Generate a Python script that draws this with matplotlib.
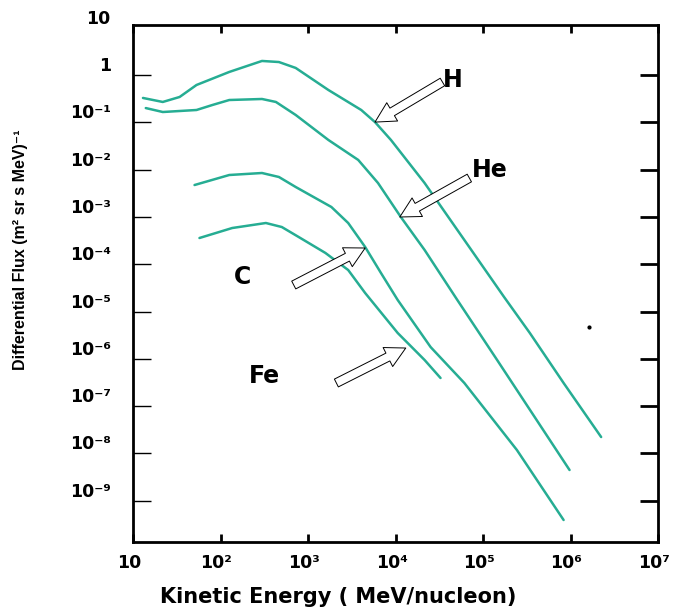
import numpy as np
import matplotlib
matplotlib.use("Agg")
import matplotlib.pyplot as plt
from matplotlib.transforms import ScaledTranslation

plt.rcParams['font.family'] = ['DejaVu Sans']
plt.rcParams['font.weight'] = 'bold'

# spectra: energy in MeV/nucleon, flux in (m2 sr s MeV)^-1
h_energy = [13.0, 21.9, 34.1, 53.2, 126, 298, 465, 723, 1710, 4060, 5830,
            8870, 21500, 61200, 174000, 343000, 834000, 2240000]
h_flux = [0.327, 0.269, 0.343, 0.615, 1.16, 1.98, 1.88, 1.41, 0.482, 0.182, 0.101,
          0.0423, 5.21e-3, 3.25e-4, 2.03e-5, 3.51e-6, 3.08e-7, 2.22e-8]

he_energy = [14.0, 21.9, 53.2, 80.7, 126, 298, 430, 723, 1710, 3750, 6310,
             11500, 21500, 50900, 145000, 975000]
he_flux = [0.200, 0.165, 0.182, 0.232, 0.296, 0.311, 0.269, 0.143, 0.0423, 0.0160,
           5.21e-3, 9.95e-4, 2.0e-4, 1.75e-5, 9.44e-7, 4.46e-9]

c_energy = [50.5, 126, 298, 465, 723, 1850, 2880, 4500, 6820, 10600, 25200,
            61200, 244000, 834000]
c_flux = [4.72e-3, 7.69e-3, 8.47e-3, 6.98e-3, 4.29e-3, 1.62e-3, 7.43e-4, 2.31e-4,
          6.52e-5, 1.75e-5, 1.77e-6, 3.08e-7, 1.18e-8, 3.91e-10]

fe_energy = [57.5, 136, 330, 502, 782, 1580, 2880, 4500, 10600, 21500, 32700]
fe_flux = [3.58e-4, 5.82e-4, 7.43e-4, 6.11e-4, 3.76e-4, 1.73e-4, 7.53e-5, 2.46e-5,
           3.51e-6, 9.44e-7, 3.93e-7]

# element labels and their arrows (tip on the curve, tail near the label)
names = ['H', 'He', 'C', 'Fe']
name_x = [44800, 121000, 177, 314]
name_y = [0.78, 9.8e-3, 5.4e-5, 4.33e-7]
tip_x = [5830, 11200, 4500, 13100]
tip_y = [0.101, 9.95e-4, 2.2e-4, 1.69e-6]
tail_x = [34400, 69800, 687, 2110]
tail_y = [0.711, 6.64e-3, 3.63e-5, 3.08e-7]

stray_x = [1.64e6]
stray_y = [4.7e-6]

xticks = [1e1, 1e2, 1e3, 1e4, 1e5, 1e6, 1e7]
xticklabels = ['10', '10²', '10³', '10⁴', '10⁵', '10⁶', '10⁷']
yticks = [1e1, 1e0, 1e-1, 1e-2, 1e-3, 1e-4, 1e-5, 1e-6, 1e-7, 1e-8, 1e-9]
yticklabels = ['10', '1', '10⁻¹', '10⁻²', '10⁻³', '10⁻⁴', '10⁻⁵', '10⁻⁶',
               '10⁻⁷', '10⁻⁸', '10⁻⁹']

teal = '#26ad93'

fig = plt.figure(figsize=(6.73, 6.12), dpi=100)
ax = fig.add_axes([133/673, 70/612, 525/673, 517/612])

for e, f in [(h_energy, h_flux), (he_energy, he_flux), (c_energy, c_flux), (fe_energy, fe_flux)]:
    ax.plot(e, f, color=teal, lw=1.8, solid_capstyle='round', solid_joinstyle='round')

ax.plot(stray_x, stray_y, 'o', color='black', ms=2)

for i in range(len(names)):
    ax.annotate('', xy=(tip_x[i], tip_y[i]), xytext=(tail_x[i], tail_y[i]),
                arrowprops=dict(arrowstyle='simple,head_length=0.8,head_width=0.85,tail_width=0.35',
                                fc='white', ec='black', lw=0.7, mutation_scale=18,
                                shrinkA=0, shrinkB=0))
    ax.text(name_x[i], name_y[i], names[i], fontsize=17, fontweight='bold',
            ha='center', va='center')

ax.set_xscale('log')
ax.set_yscale('log')
ax.set_xlim(10, 1e7)
ax.set_ylim(1.34e-10, 11.4)

ax.set_xticks(xticks)
ax.set_xticklabels(xticklabels)
ax.set_yticks(yticks)
ax.set_yticklabels(yticklabels)
ax.minorticks_off()

ax.tick_params(axis='x', which='major', direction='in', top=True, length=6, width=2,
               pad=9, labelsize=12.5)
ax.tick_params(axis='y', which='major', direction='in', right=True, length=13, width=2,
               pad=16, labelsize=12.5)
for lab in ax.get_yticklabels():
    lab.set_va('bottom')
# x labels sit a little left of their ticks
shift = ScaledTranslation(-4/100, 0, fig.dpi_scale_trans)
for lab in ax.get_xticklabels():
    lab.set_transform(lab.get_transform() + shift)

# left ticks are thin and greenish, right ticks black; none at the top value
for t, v in zip(ax.yaxis.get_major_ticks(), yticks):
    t.tick1line.set_color('#7fb3a8')
    t.tick1line.set_markeredgewidth(1.0)
    t.tick1line.set_markersize(13)
    if v > 1:
        t.tick1line.set_visible(False)
        t.tick2line.set_visible(False)

for s in ax.spines.values():
    s.set_linewidth(2)

ax.set_xlabel('Kinetic Energy ( MeV/nucleon)', fontsize=15, fontweight='bold')
ax.xaxis.set_label_coords(0.391, -0.106)
ax.xaxis.label.set_va('center')

ax.set_ylabel('Differential Flux (m² sr s MeV)⁻¹', fontsize=11.5, fontweight='bold',
              family=['Liberation Sans Narrow', 'Liberation Sans', 'DejaVu Sans'])
ax.yaxis.set_label_coords(-0.2144, 0.565)
ax.yaxis.label.set_va('center')

fig.savefig('out.png', dpi=100)
